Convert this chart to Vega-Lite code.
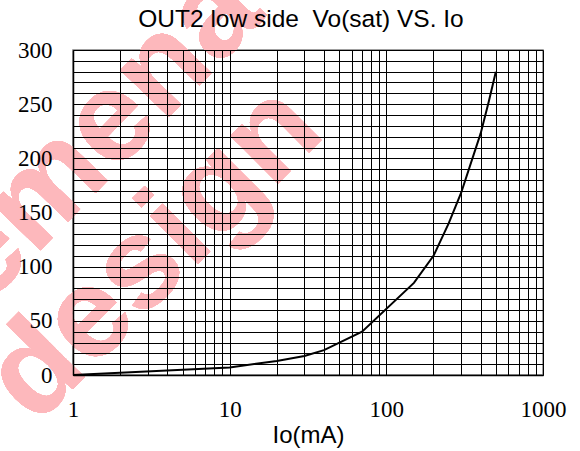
{
  "$schema": "https://vega.github.io/schema/vega-lite/v6.json",
  "autosize": "none",
  "width": 470,
  "height": 325,
  "padding": {"left": 73, "top": 50, "right": 37, "bottom": 76},
  "background": "white",
  "config": {
    "view": {"stroke": "#808080", "strokeWidth": 1.5}
  },
  "title": {
    "text": "OUT2 low side \u00a0Vo(sat) VS. Io",
    "font": "Liberation Sans",
    "fontSize": 24.5,
    "fontWeight": "normal",
    "color": "#000",
    "anchor": "middle",
    "frame": "group",
    "baseline": "alphabetic",
    "dx": -7,
    "offset": 0,
    "dy": 106
  },
  "data": {
    "values": [
      {"io": 1, "vo": 0},
      {"io": 10, "vo": 7},
      {"io": 20, "vo": 13},
      {"io": 30, "vo": 17.5},
      {"io": 40, "vo": 23},
      {"io": 70, "vo": 40},
      {"io": 150, "vo": 85},
      {"io": 200, "vo": 110},
      {"io": 250, "vo": 140},
      {"io": 300, "vo": 168},
      {"io": 400, "vo": 223},
      {"io": 450, "vo": 252},
      {"io": 500, "vo": 280}
    ]
  },
  "encoding": {
    "x": {
      "field": "io",
      "type": "quantitative",
      "scale": {"type": "log", "domain": [1, 1000], "nice": false},
      "axis": {
        "zindex": 1,
        "title": "Io(mA)",
        "titleFont": "Liberation Sans",
        "titleFontSize": 24,
        "titleFontWeight": "normal",
        "titleColor": "#000",
        "titlePadding": 2,
        "values": [1,2,3,4,5,6,7,8,9,10,20,30,40,50,60,70,80,90,100,200,300,400,500,600,700,800,900,1000],
        "labelExpr": "datum.value == 1 || datum.value == 10 || datum.value == 100 || datum.value == 1000 ? datum.label : ''",
        "labelFont": "Liberation Serif",
        "labelFontSize": 23,
        "labelColor": "#000",
        "labelPadding": 23,
        "labelFlush": false,
        "labelOverlap": false,
        "ticks": false,
        "tickSize": 0,
        "grid": true,
        "gridColor": "#000",
        "gridOpacity": 1,
        "gridWidth": 1,
        "domainColor": "#000",
        "domainWidth": 1.5,
        "format": "d"
      }
    },
    "y": {
      "field": "vo",
      "type": "quantitative",
      "scale": {"domain": [0, 300], "nice": false},
      "axis": {
        "zindex": 1,
        "title": null,
        "values": [0,10,20,30,40,50,60,70,80,90,100,110,120,130,140,150,160,170,180,190,200,210,220,230,240,250,260,270,280,290,300],
        "labelExpr": "datum.value % 50 == 0 ? datum.label : ''",
        "labelFont": "Liberation Serif",
        "labelFontSize": 23,
        "labelColor": "#000",
        "labelPadding": 21,
        "labelFlush": false,
        "labelOverlap": false,
        "ticks": false,
        "tickSize": 0,
        "grid": true,
        "gridColor": "#000",
        "gridOpacity": 1,
        "gridWidth": 1,
        "domainColor": "#000",
        "domainWidth": 1.5
      }
    }
  },
  "layer": [
    {
      "mark": {"type": "text", "text": "emena", "font": "Liberation Sans", "fontWeight": "bold", "fontSize": 128, "angle": -46, "align": "center", "baseline": "middle", "dy": -5, "fill": "#fdb8bc"},
      "encoding": {"x": {"datum": 1.531}, "y": {"datum": 217.8}}
    },
    {
      "mark": {"type": "text", "text": "design", "font": "Liberation Sans", "fontWeight": "bold", "fontSize": 128, "angle": -45, "align": "center", "baseline": "middle", "dy": -5, "fill": "#fdb8bc"},
      "encoding": {"x": {"datum": 3.487}, "y": {"datum": 108.9}}
    },
    {
      "mark": {"type": "line", "color": "#000", "strokeWidth": 2}
    }
  ]
}
